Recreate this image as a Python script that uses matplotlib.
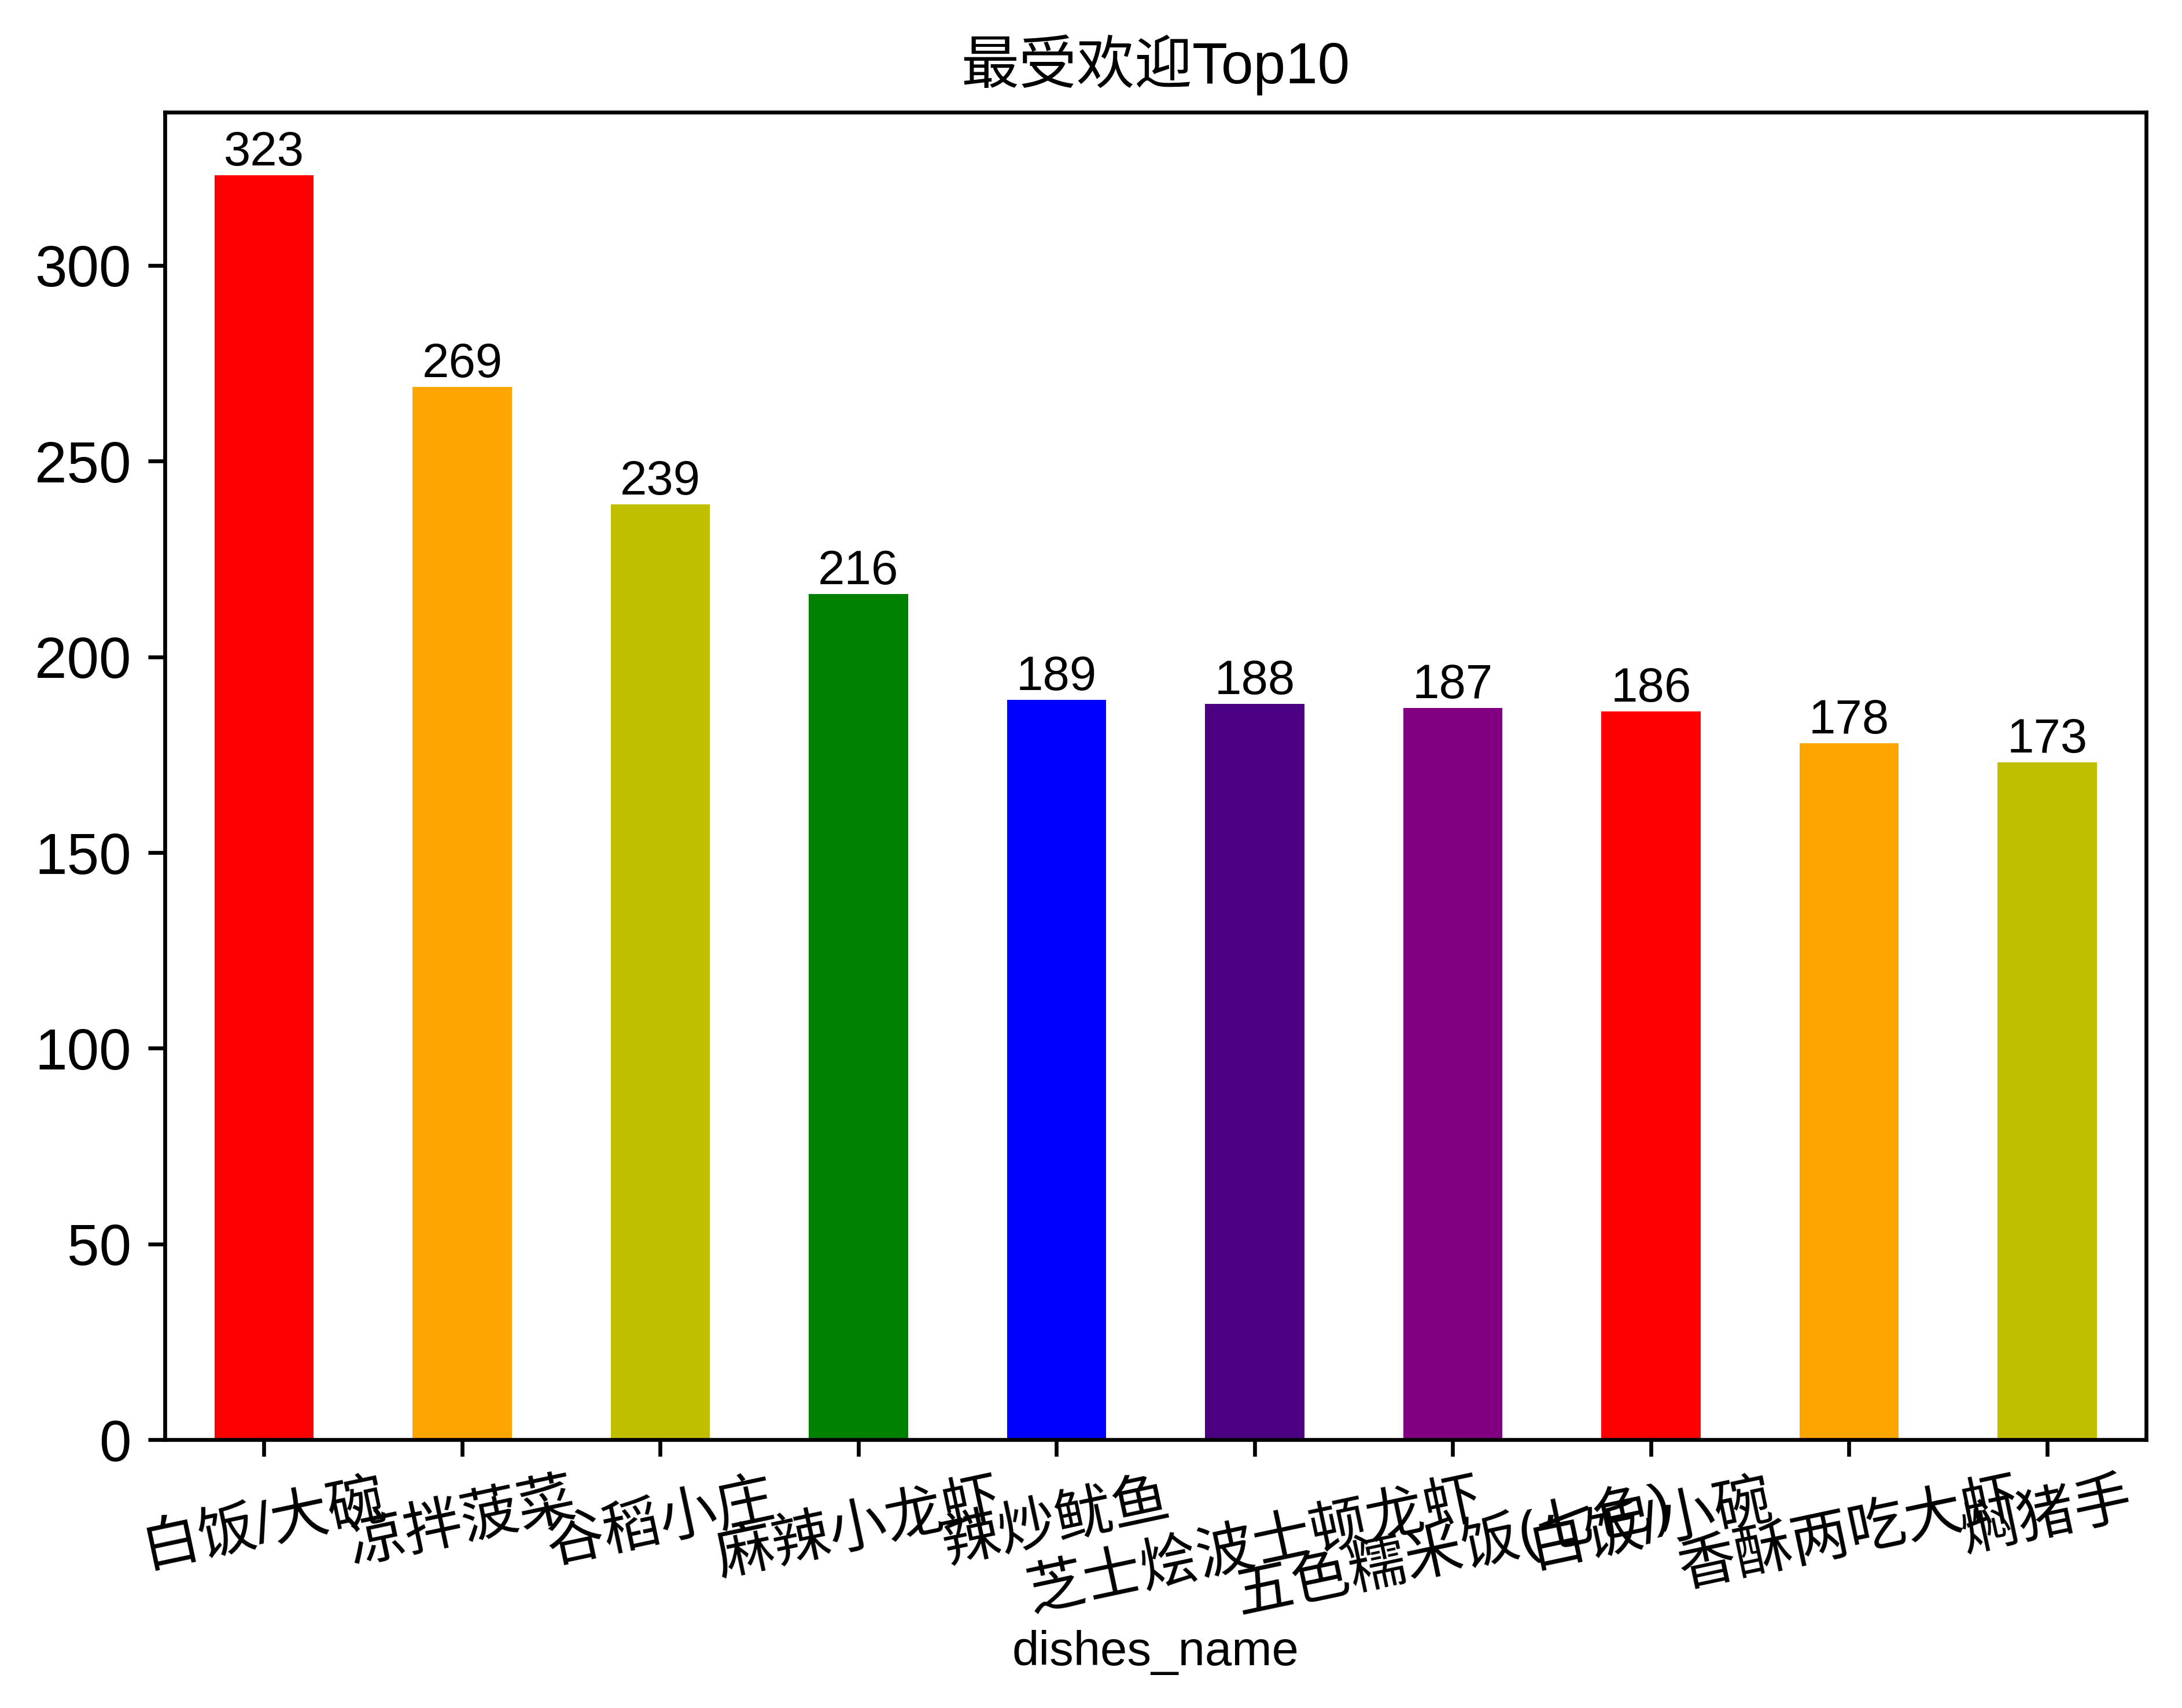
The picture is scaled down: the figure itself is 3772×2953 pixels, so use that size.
import numpy as np
import matplotlib.pyplot as plt

plt.rcParams['font.family'] = ['Liberation Sans', 'Noto Sans CJK SC', 'DejaVu Sans']
plt.rcParams['axes.unicode_minus'] = False

dishes = ['白饭/大碗', '凉拌菠菜', '谷稻小庄', '麻辣小龙虾', '辣炒鱿鱼',
          '芝士烩波士顿龙虾', '五色糯米饭(七色)', '白饭/小碗', '香酥两吃大虾', '焖猪手']
counts = [323, 269, 239, 216, 189, 188, 187, 186, 178, 173]
palette = ['r', 'orange', 'y', 'g', 'b', 'indigo', 'purple']

fig = plt.figure(figsize=(3772 / 600, 2953 / 600), dpi=600)
ax = fig.add_axes([0.0756, 0.1571, 0.9080, 0.7772])

x = np.arange(len(dishes))
colors = [palette[i % len(palette)] for i in range(len(dishes))]
ax.bar(x, counts, width=0.5, color=colors)
ax.set_xlim(-0.5, len(dishes) - 0.5)
ax.set_ylim(0, max(counts) * 1.05)

for xi, c in zip(x, counts):
    ax.text(xi, c, str(c), ha='center', va='bottom', fontsize=10)

ax.set_xticks(x)
ax.set_xticklabels(dishes, rotation=12, fontsize=12)
ax.tick_params(axis='y', labelsize=12)
ax.set_xlabel('dishes_name', fontsize=10, labelpad=1)
ax.set_title('最受欢迎Top10', fontsize=12)

fig.savefig('out.png', dpi=600)
